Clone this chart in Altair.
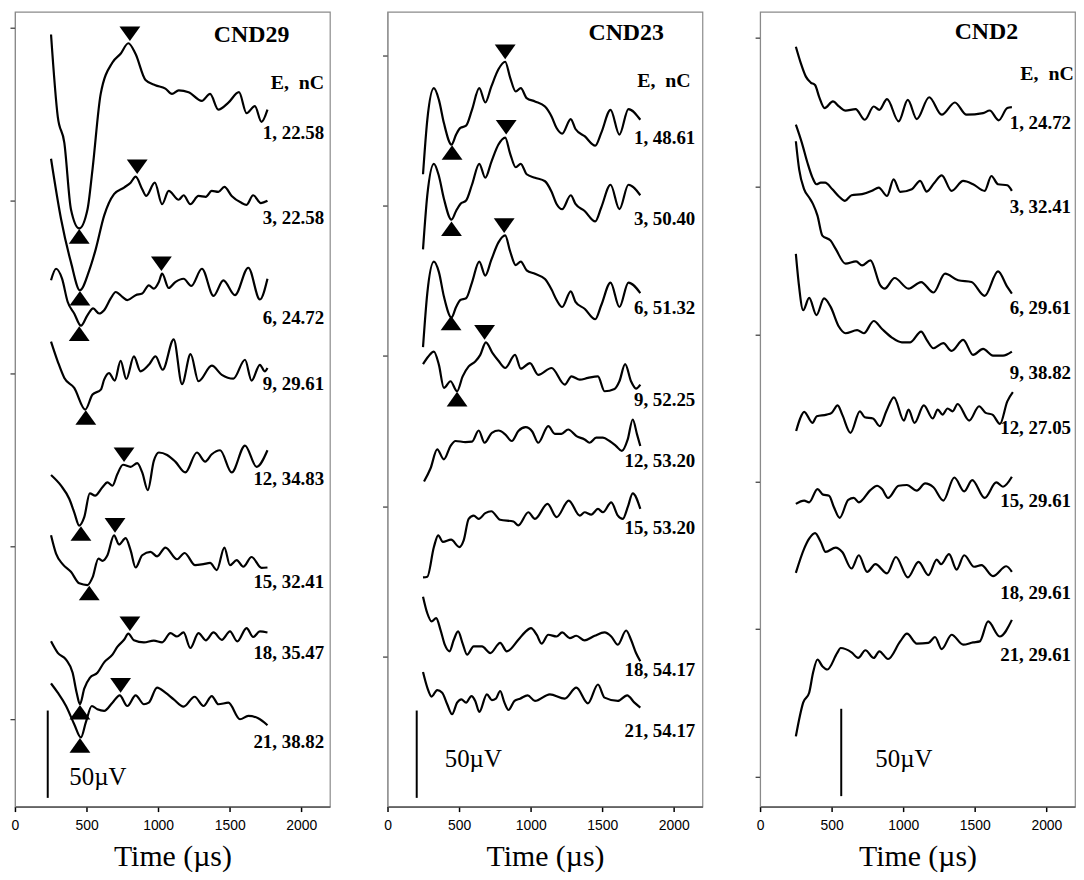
import altair as alt
import pandas as pd

# ---------------- CND29 (left panel) ----------------
p1_t = [
    [252, 299, 345, 391, 449, 507, 542, 599, 681, 738, 792, 842, 912, 981, 1051, 1097, 1144, 1213, 1305, 1363, 1421, 1491, 1565, 1618, 1676, 1722, 1764],
    [252, 322, 391, 454, 519, 565, 623, 692, 762, 808, 843, 889, 917, 977, 1028, 1074, 1144, 1178, 1225, 1282, 1333, 1375, 1421, 1463, 1514, 1579, 1618, 1664, 1718, 1764],
    [252, 287, 329, 368, 414, 461, 507, 546, 588, 623, 669, 704, 750, 785, 843, 889, 935, 970, 1005, 1028, 1074, 1120, 1178, 1232, 1306, 1387, 1456, 1537, 1630, 1711, 1764],
    [252, 299, 345, 414, 491, 542, 600, 623, 657, 697, 738, 778, 831, 877, 935, 982, 1032, 1109, 1167, 1227, 1282, 1375, 1445, 1526, 1607, 1653, 1711, 1745, 1764],
    [252, 322, 380, 414, 449, 484, 523, 560, 611, 646, 681, 715, 755, 808, 854, 889, 928, 970, 1005, 1063, 1120, 1190, 1271, 1329, 1375, 1433, 1514, 1607, 1688, 1764],
    [252, 287, 333, 391, 449, 507, 542, 583, 611, 646, 692, 727, 773, 808, 843, 889, 947, 993, 1051, 1132, 1185, 1259, 1317, 1363, 1410, 1463, 1502, 1549, 1595, 1653, 1722, 1764],
    [252, 299, 357, 403, 431, 454, 484, 523, 576, 623, 681, 715, 762, 792, 831, 901, 970, 1028, 1086, 1132, 1178, 1225, 1282, 1333, 1387, 1445, 1502, 1553, 1618, 1664, 1711, 1764],
    [252, 299, 357, 414, 461, 495, 537, 576, 623, 681, 732, 785, 843, 901, 935, 993, 1051, 1109, 1178, 1255, 1317, 1375, 1421, 1491, 1572, 1630, 1699, 1764],
]
p1_v = [
    [442, 395, 380, 342, 331, 342, 365, 408, 426, 431, 437, 431, 416, 413, 411, 408, 410, 409, 404, 408, 399, 403, 409, 397, 401, 392, 399],
    [370.9, 336.4, 311.7, 295.6, 307, 319.3, 338.3, 350.6, 354.4, 357.2, 360.6, 353.4, 349.6, 357.2, 344.9, 352.5, 347.4, 350, 344.9, 349.6, 349.1, 352.5, 351.9, 354.8, 349.6, 345.8, 344.5, 350, 345.5, 346.8],
    [301.3, 307.9, 302.2, 289, 282.3, 275.3, 281.4, 285.2, 282.3, 284.2, 290.9, 294.6, 291.8, 289.9, 292.8, 293.7, 298.4, 296.5, 300.3, 305.1, 296.9, 300.3, 302.2, 298.1, 307.9, 292.4, 301.3, 292.8, 308.5, 290.3, 302.2],
    [266.2, 254.8, 245.4, 239.7, 227.3, 235.9, 238.7, 244.4, 248.2, 243.9, 255.2, 244.8, 257.7, 249.2, 252.9, 257.7, 250.1, 267.5, 241.9, 259, 243.5, 252.4, 247.2, 245, 255.8, 243.9, 252.9, 249.2, 251.1],
    [189.8, 183.7, 176.1, 168.5, 160.9, 165.7, 179.3, 178, 182.8, 185.6, 183.7, 190.3, 195.7, 194.5, 196.6, 191.3, 181.2, 197.9, 202.7, 201.3, 197.5, 191.3, 202.7, 197.5, 201.7, 204, 191.3, 206.7, 194.5, 204],
    [155.3, 144.8, 138.8, 134.4, 127.8, 126.8, 131.2, 142, 140.7, 143.9, 155.3, 150.1, 153.7, 146.7, 136.9, 143.9, 145.8, 143.3, 148.3, 141.6, 145.2, 138.2, 138.8, 139.5, 135.4, 148.3, 138.2, 141.1, 137.3, 142.9, 136.7, 136.9],
    [94.6, 88, 84.2, 76.6, 65.2, 58.6, 67.5, 73.7, 76.6, 82.6, 87, 91.4, 95.5, 99, 95.2, 94, 95, 94, 99.3, 97.4, 99.7, 90.8, 99.3, 95.2, 99.7, 95.5, 100.3, 94.6, 102.2, 97.1, 100.3, 99.7],
    [70.5, 65.2, 57.6, 47.2, 39.6, 48.2, 57.6, 55.7, 54.8, 59.5, 63.7, 57.6, 63.7, 58.6, 59.5, 68.1, 65.2, 61.4, 57.2, 62.9, 57.6, 63.3, 58.6, 59.5, 50, 51.9, 50.6, 46.6],
]
p1_labels = ["1, 22.58", "3, 22.58", "6, 24.72", "9, 29.61", "12, 34.83", "15, 32.41", "18, 35.47", "21, 38.82"]
p1_label_v = [385.6, 336.7, 279.8, 241.9, 187.5, 128.7, 88, 36.8]
p1_peak_t = [803, 854, 1023, 762, 699, 803, 738]
p1_peak_v = [436.8, 360.6, 305.1, 195.7, 155.3, 99, 63.7]
p1_trough_t = [449, 454, 449, 495, 461, 519, 454, 454]
p1_trough_v = [331, 295.6, 275.3, 227.3, 160.9, 126.8, 58.6, 39.6]
p1_yticks = [50, 149, 248, 347, 446]

# ---------------- CND23 (middle panel) ----------------
p2_t1 = [248, 278, 324, 359, 394, 447, 479, 509, 549, 590, 641, 683, 725, 775, 822, 856, 896, 931, 972, 1030, 1100, 1146, 1181, 1220, 1280, 1313, 1377, 1451, 1493, 1558, 1620, 1683, 1766]
p2_t = [
    p2_t1, p2_t1, p2_t1,
    [248, 285, 324, 359, 394, 440, 486, 525, 567, 613, 648, 687, 734, 775, 822, 891, 931, 995, 1053, 1146, 1238, 1285, 1343, 1400, 1470, 1516, 1586, 1620, 1660, 1701, 1736, 1766],
    [255, 301, 347, 394, 440, 475, 544, 590, 637, 678, 729, 776, 822, 868, 914, 965, 1012, 1053, 1123, 1169, 1215, 1262, 1320, 1377, 1412, 1458, 1505, 1551, 1597, 1637, 1678, 1713, 1743, 1766],
    [248, 278, 324, 354, 387, 444, 502, 532, 567, 602, 637, 683, 725, 787, 880, 914, 984, 1030, 1118, 1181, 1266, 1343, 1377, 1424, 1470, 1505, 1563, 1609, 1644, 1678, 1713, 1766],
    [248, 278, 308, 340, 370, 400, 433, 463, 493, 525, 556, 602, 660, 718, 787, 833, 914, 961, 1002, 1042, 1076, 1123, 1181, 1220, 1273, 1319, 1377, 1447, 1516, 1563, 1609, 1667, 1701, 1736, 1766],
    [248, 278, 308, 347, 382, 417, 451, 486, 516, 549, 586, 613, 641, 694, 729, 757, 787, 817, 845, 887, 926, 979, 1030, 1134, 1238, 1319, 1400, 1470, 1516, 1609, 1674, 1725, 1766],
]
p2_v = [
    [362, 393.2, 411.3, 404.6, 391.3, 379, 384.7, 388.5, 389.8, 398.9, 411.3, 403.1, 412.2, 422.1, 426.4, 417.5, 409.4, 411.3, 405.6, 403.7, 400.8, 395.1, 388.5, 385.3, 393.6, 387.9, 383.8, 378.4, 385.7, 398.9, 384.7, 399.3, 393.2],
    [319, 350, 368, 361, 348, 336, 341, 345, 347, 356, 368, 360, 369, 379, 383, 374, 366, 368, 362, 360, 358, 352, 345, 342, 350, 345, 341, 335, 343, 356, 342, 356, 350],
    [263, 294, 312, 306, 292, 280, 286, 290, 291, 300, 312, 304, 313, 323, 327, 318, 310, 312, 307, 305, 302, 296, 290, 286, 295, 289, 285, 279, 287, 300, 286, 300, 294],
    [253.3, 257.7, 260.5, 252.9, 239.7, 243.5, 237.8, 246.3, 252, 254.8, 258.6, 265.8, 259.6, 255.2, 251.1, 258.6, 250.7, 253.9, 247.2, 251.1, 241.6, 246.3, 244.4, 245.4, 246.3, 237.8, 239.1, 243.5, 253.3, 243.5, 239.3, 241.6],
    [186.1, 193.7, 204.5, 198.8, 206.4, 209.3, 208.7, 208.9, 215.3, 208.3, 214, 215.3, 213.1, 209.3, 215, 217.2, 214.6, 208.3, 217.8, 213.4, 213.4, 215.9, 212.1, 210.2, 208.3, 211.2, 211.2, 209.3, 206.4, 203.6, 210.2, 221.6, 213.1, 206.4],
    [131.2, 131.6, 148.6, 155.3, 151.5, 152.8, 148.6, 152.4, 164.7, 166.6, 164.7, 168, 169.1, 164.2, 163.2, 161, 168.5, 164.7, 173.3, 165.7, 175.2, 166.6, 168.5, 167.2, 170.4, 168.5, 174.2, 166.6, 164.7, 171.4, 179.3, 170.4],
    [120.2, 110.7, 106, 107.9, 101.2, 92.7, 88.9, 95.5, 100.3, 93.3, 87, 91.7, 91.7, 87.9, 93.7, 88.9, 95.5, 99.9, 102.2, 98.4, 93.3, 98.4, 97.4, 99.7, 96.5, 97.8, 95.2, 97.8, 99.7, 97.4, 92.7, 100.8, 95.5, 87.9, 83.2],
    [77, 68.1, 63, 66.7, 65.2, 58.6, 52.9, 59.5, 61.4, 59.5, 63.3, 60.5, 54.2, 64.3, 61, 61.8, 66.2, 59.5, 55.3, 60.5, 61.8, 63.7, 60.5, 64.3, 61.8, 68.1, 59.1, 69.9, 62.4, 60.5, 63.7, 59.5, 56.7],
]
p2_labels = ["1, 48.61", "3, 50.40", "6, 51.32", "9, 52.25", "12, 53.20", "15, 53.20", "18, 54.17", "21, 54.17"]
p2_label_v = [382.8, 336.3, 285.5, 232.5, 197.6, 159.7, 78.1, 43.4]
p2_peak_t = [822, 829, 815, 678]
p2_peak_v = [426.4, 383.2, 326.9, 265.8]
p2_trough_t = [451, 447, 444, 486]
p2_trough_v = [379, 335.4, 281.4, 237.8]
p2_yticks = [86, 172, 258, 344, 430]

# ---------------- CND2 (right panel) ----------------
p3_t = [
    [250, 285, 320, 354, 384, 412, 451, 509, 551, 597, 667, 732, 794, 833, 887, 968, 1032, 1095, 1181, 1269, 1361, 1442, 1558, 1604, 1667, 1727, 1759],
    [250, 292, 331, 366, 394, 424, 454, 505, 551, 593, 639, 713, 782, 829, 887, 933, 979, 1060, 1118, 1164, 1218, 1269, 1338, 1419, 1488, 1569, 1616, 1662, 1727, 1759],
    [250, 273, 308, 343, 370, 401, 435, 493, 528, 597, 671, 713, 771, 840, 870, 940, 1037, 1125, 1211, 1292, 1384, 1477, 1569, 1662, 1727, 1759],
    [250, 269, 301, 343, 394, 447, 493, 551, 597, 678, 725, 794, 852, 921, 991, 1049, 1125, 1164, 1211, 1280, 1338, 1419, 1488, 1558, 1627, 1697, 1759],
    [252, 280, 308, 366, 396, 465, 500, 542, 574, 632, 697, 731, 789, 836, 882, 935, 1005, 1037, 1079, 1144, 1206, 1241, 1275, 1310, 1345, 1380, 1461, 1530, 1576, 1623, 1676, 1727, 1766],
    [250, 308, 343, 401, 440, 482, 516, 556, 616, 655, 690, 771, 817, 852, 894, 968, 1026, 1095, 1153, 1211, 1280, 1357, 1426, 1482, 1569, 1650, 1697, 1759],
    [250, 308, 343, 384, 424, 458, 528, 574, 639, 690, 748, 806, 887, 949, 1032, 1107, 1176, 1234, 1264, 1320, 1373, 1426, 1495, 1546, 1627, 1720, 1759],
    [250, 278, 301, 343, 370, 401, 435, 470, 539, 563, 639, 685, 736, 794, 833, 894, 979, 1026, 1095, 1176, 1222, 1269, 1338, 1419, 1488, 1535, 1593, 1674, 1759],
]
p3_v = [
    [435, 425.5, 417.9, 414.5, 413.1, 406.5, 399.9, 403.7, 400.8, 398.4, 399.3, 393.2, 400.8, 398.9, 405, 392.3, 404.6, 393.6, 406.1, 396.1, 403.1, 396.1, 397, 398.5, 392.9, 399.9, 400.4],
    [390.4, 380, 368.6, 360.1, 356.3, 357.2, 357.2, 353.4, 349.3, 346.8, 350, 350.6, 352.5, 354.4, 349.6, 359.1, 351.9, 353.4, 358.2, 352.1, 357.2, 361.4, 352.5, 358.2, 356.3, 352.5, 361, 356.3, 355.7, 352.5],
    [380.9, 364.8, 353.4, 348.7, 344.9, 338.3, 326.9, 324, 319.3, 310.8, 312.1, 309.8, 312.7, 298.4, 296.5, 302.6, 296.5, 300.3, 294.3, 305.1, 301.3, 300.3, 292.4, 306.4, 297.5, 293.7],
    [316.4, 300.3, 284.2, 291.2, 281.4, 290.9, 286.1, 274.7, 271, 272.8, 271, 278, 273.4, 268.5, 265.8, 265.8, 271.9, 267.2, 262.4, 265.3, 260.9, 267.2, 258.6, 262, 258.2, 258.2, 260.5],
    [215, 222.2, 226, 219.7, 223.5, 224.4, 225.4, 229.7, 224.4, 214, 226.3, 222.9, 222.2, 217.8, 226.3, 234.3, 221, 227.3, 219.7, 229.7, 222.2, 227.3, 224.4, 227.9, 226.3, 230.5, 221, 229.2, 225.4, 224.4, 219.1, 232, 237.3],
    [173.3, 175.2, 174.2, 181.8, 178.6, 178, 171.4, 165.3, 175.6, 176.7, 174.2, 181.2, 183.7, 181.8, 176.7, 183.7, 184.1, 180.9, 185, 182.8, 175.2, 188.4, 180.5, 186.9, 176.7, 185.6, 183.1, 188.8],
    [133.8, 147.7, 153.4, 156.6, 151.5, 145.8, 148.3, 145.8, 136.3, 143.9, 134.4, 138.8, 133.5, 142.9, 131.2, 140.1, 132.5, 141.4, 138.8, 144.5, 135.7, 143.9, 137.3, 138.2, 131.9, 137.6, 134.4],
    [40.2, 51.9, 59.5, 65.2, 76.6, 84.2, 80.4, 78.5, 88, 90.8, 88.3, 85.1, 89.5, 85.1, 88.9, 84.5, 94.6, 99, 93.3, 93.7, 97.1, 90.2, 98.4, 92.7, 94, 94.6, 106, 97.4, 106.9],
]
p3_labels = ["1, 24.72", "3, 32.41", "6, 29.61", "9, 38.82", "12, 27.05", "15, 29.61", "18, 29.61", "21, 29.61"]
p3_label_v = [391.3, 343, 285.5, 248.2, 216.9, 175.2, 122.1, 86.5]
p3_peak_t = []
p3_peak_v = []
p3_trough_t = []
p3_trough_v = []
p3_yticks = [17, 102, 186, 270, 355, 440]

# panel headers / annotation anchors (data units: µs, µV)
panel_names = ["CND29", "CND23", "CND2"]
name_t = [1653, 1667, 1581]
name_v = [441.6, 443, 443.5]
unit_text = "E,\u00a0\u00a0nC"
unit_t = [2160, 2118, 2192]
unit_v = [414, 415.6, 419.4]
label_t = [2160, 2150, 2172]
bar_t = [229, 204, 567]
bar_v0 = [5, 5, 6]
bar_v1 = [55, 55, 56]
bar_text_t = [380, 400, 805]
bar_text_v = [17, 27, 27]

SERIF = "Liberation Serif"
SANS = "Liberation Sans"
DOWN_TRI = "M-1,-0.7L1,-0.7L0,0.7Z"
UP_TRI = "M-1,0.7L1,0.7L0,-0.7Z"


def make_panel(i, ts, vs, labels, label_v, pk_t, pk_v, tr_t, tr_v, yticks):
    rows = []
    for k, (tt, vv) in enumerate(zip(ts, vs)):
        for j, (a, b) in enumerate(zip(tt, vv)):
            rows.append({"trace": k, "order": j, "t": a, "v": b})
    traces = pd.DataFrame(rows)

    x = alt.X("t:Q",
              scale=alt.Scale(domain=[0, 2200], nice=False, zero=False),
              axis=alt.Axis(values=[0, 500, 1000, 1500, 2000], format="d", title="Time (µs)",
                            grid=False, tickSize=5, tickColor="#000", tickWidth=1.5,
                            domainColor="#444", domainWidth=1.2,
                            labelFont=SANS, labelFontSize=14, labelColor="#000",
                            labelPadding=7, labelFlush=False,
                            titleFont=SERIF, titleFontSize=30, titleFontWeight="normal",
                            titleColor="#000", titlePadding=9))
    y = alt.Y("v:Q",
              scale=alt.Scale(domain=[0, 455], nice=False, zero=False),
              axis=alt.Axis(values=yticks, labels=False, title="", grid=False,
                            tickSize=5, tickColor="#333", tickWidth=1.2,
                            domainColor="#8a8a8a", minExtent=5, maxExtent=5))

    lines = alt.Chart(traces).mark_line(
        color="black", strokeWidth=2.2, interpolate="monotone"
    ).encode(x=x, y=y, detail="trace:N", order="order:Q")

    layers = [lines]

    if pk_t:
        peaks = pd.DataFrame({"t": pk_t, "v": pk_v})
        layers.append(alt.Chart(peaks).mark_point(
            shape=DOWN_TRI, filled=True, color="black", opacity=1, size=440, yOffset=-10
        ).encode(x=x, y=y))
    if tr_t:
        troughs = pd.DataFrame({"t": tr_t, "v": tr_v})
        layers.append(alt.Chart(troughs).mark_point(
            shape=UP_TRI, filled=True, color="black", opacity=1, size=440, yOffset=8
        ).encode(x=x, y=y))

    lab = pd.DataFrame({"t": [label_t[i]] * len(labels), "v": label_v, "txt": labels})
    layers.append(alt.Chart(lab).mark_text(
        align="right", baseline="middle", font=SERIF, fontWeight="bold",
        fontSize=19, color="black"
    ).encode(x=x, y=y, text="txt:N"))

    unit = pd.DataFrame({"t": [unit_t[i]], "v": [unit_v[i]], "txt": [unit_text]})
    layers.append(alt.Chart(unit).mark_text(
        align="right", baseline="middle", font=SERIF, fontWeight="bold",
        fontSize=20, color="black"
    ).encode(x=x, y=y, text="txt:N"))

    name = pd.DataFrame({"t": [name_t[i]], "v": [name_v[i]], "txt": [panel_names[i]]})
    layers.append(alt.Chart(name).mark_text(
        align="center", baseline="middle", font=SERIF, fontWeight="bold",
        fontSize=24, color="black"
    ).encode(x=x, y=y, text="txt:N"))

    bar = pd.DataFrame({"t": [bar_t[i]], "v": [bar_v0[i]], "v2": [bar_v1[i]]})
    layers.append(alt.Chart(bar).mark_rule(color="black", strokeWidth=2).encode(
        x=x, y=y, y2=alt.Y2("v2:Q")))

    bt = pd.DataFrame({"t": [bar_text_t[i]], "v": [bar_text_v[i]], "txt": ["50µV"]})
    layers.append(alt.Chart(bt).mark_text(
        align="left", baseline="middle", font=SERIF, fontSize=25, color="black"
    ).encode(x=x, y=y, text="txt:N"))

    return alt.layer(*layers).properties(width=317, height=800)


panel1 = make_panel(0, p1_t, p1_v, p1_labels, p1_label_v, p1_peak_t, p1_peak_v,
                    p1_trough_t, p1_trough_v, p1_yticks)
panel2 = make_panel(1, p2_t, p2_v, p2_labels, p2_label_v, p2_peak_t, p2_peak_v,
                    p2_trough_t, p2_trough_v, p2_yticks)
panel3 = make_panel(2, p3_t, p3_v, p3_labels, p3_label_v, p3_peak_t, p3_peak_v,
                    p3_trough_t, p3_trough_v, p3_yticks)

chart = alt.hconcat(panel1, panel2, panel3, spacing=50).properties(
    padding={"left": 0, "top": 0, "right": 0, "bottom": 0},
    background="white",
).configure_view(stroke="#8a8a8a", strokeWidth=1.2)

chart.save("out.html", embed_options={"renderer": "svg", "actions": False})
